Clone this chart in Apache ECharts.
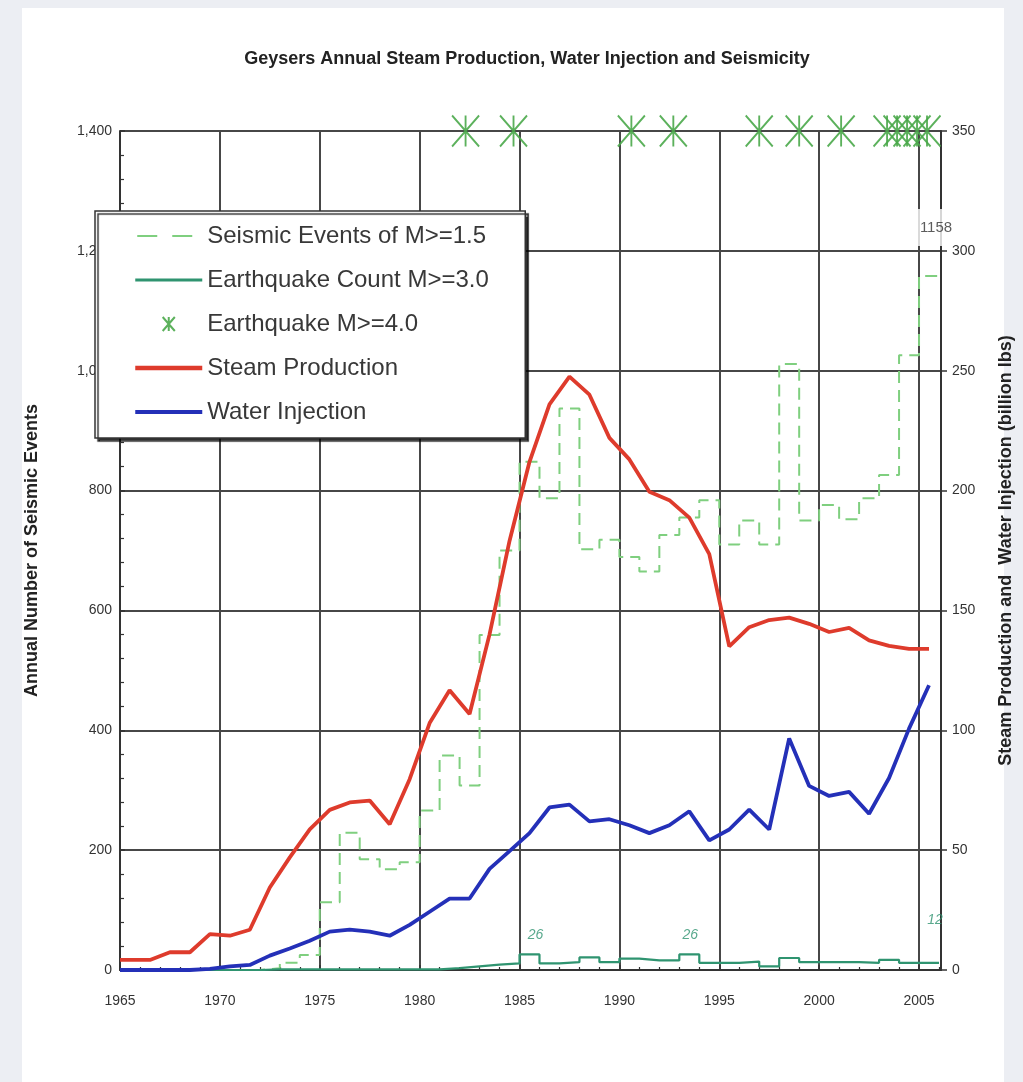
<!DOCTYPE html>
<html>
<head>
<meta charset="utf-8">
<script src="https://cdn.jsdelivr.net/npm/echarts@6/dist/echarts.min.js"></script>
<style>
  html, body { margin: 0; padding: 0; background: #eceef3; overflow: hidden; }
  #panel { position: absolute; left: 22px; top: 8px; width: 982px; height: 1074px; background: #ffffff; }
  #chart { position: absolute; left: 0; top: 0; width: 1023px; height: 1082px; }
</style>
</head>
<body>
<div id="panel"></div>
<div id="chart"></div>
<script>
// Annual values, 1965-2005
const years = [];
for (let y = 1965; y <= 2005; y++) years.push(y);

// Steam production, billion lbs (right axis)
const steamProduction = [
  4.2, 4.2, 7.4, 7.4, 15, 14.3, 16.8, 34.4, 47, 58.7,
  66.8, 69.9, 70.7, 60.8, 79.6, 103, 116.7, 106.8, 140, 179,
  212, 236, 247.5, 240, 222, 213, 199.5, 196, 188.7, 173.5,
  135, 143, 146, 147, 144.4, 141, 142.7, 137.5, 135.2, 134,
  134
];

// Water injection, billion lbs (right axis)
const waterInjection = [
  0, 0, 0, 0, 0.5, 1.5, 2.1, 6, 9, 12.2,
  16, 16.8, 16, 14.3, 18.8, 24.3, 29.8, 29.8, 42.2, 49.6,
  57.1, 67.8, 69, 62, 62.9, 60.4, 57.1, 60.4, 66.2, 54.1,
  58.6, 66.9, 58.6, 96.6, 76.8, 72.6, 74.3, 65.2, 80.1, 100.7,
  118.8
];

// Seismic events of M>=1.5 per year (left axis)
const seismicM15 = [
  0, 0, 0, 0, 0, 0, 0, 3, 12, 25,
  113, 229, 185, 168, 180, 266, 358, 308, 559, 700,
  848, 787, 937, 702, 718, 689, 665, 726, 755, 784,
  710, 750, 710, 1011, 750, 776, 752, 787, 826, 1026,
  1158
];

// Earthquake count M>=3.0 per year (left axis)
const quakeCountM30 = [
  0, 0, 0, 0, 0, 0, 0, 1, 1, 1,
  1, 1, 1, 1, 1, 1, 3, 6, 9, 11,
  26, 11, 13, 21, 13, 19, 16, 16, 26, 12,
  12, 14, 6, 20, 13, 13, 13, 12, 17, 12,
  12
];

// Dates of M>=4.0 earthquakes (decimal years)
const quakeM40Dates = [
  1982.3, 1984.7, 1990.6, 1992.7, 1997.0, 1999.0, 2001.1,
  2003.4, 2003.9, 2004.4, 2004.9, 2005.4
];

// Years whose M>=3.0 count is written on the chart
const labelledCountYears = [1985, 1993, 2005];
// Year whose M>=1.5 total is written on the chart
const labelledSeismicYears = [2005];

const FONT = "'Liberation Sans', Arial, sans-serif";
const GRID_COLOR = '#474747';
const RED = '#de3b2c';
const BLUE = '#2430b8';
const LIGHT_GREEN = '#7fcf7f';
const TEAL = '#2f9470';
const MARK_GREEN = '#4aa84a';
const TOP_VALUE = 1400;

// step series: each value holds for its whole year
function stepData(values) {
  const d = years.map((y, i) => [y, values[i]]);
  d.push([years[years.length - 1] + 1, values[values.length - 1]]);
  return d;
}
// annual totals are drawn at mid-year; the first year's value also starts at the axis
function midYearData(values) {
  const d = years.map((y, i) => [y + 0.5, values[i]]);
  d.unshift([years[0], values[0]]);
  return d;
}

const countLabelData = labelledCountYears.map(y => {
  const v = quakeCountM30[years.indexOf(y)];
  return {
    value: [y + 0.5, v],
    label: { distance: y === 2005 ? 36 : 12, offset: [y === 1993 ? 1 : 6, 0] }
  };
});
const seismicLabelData = labelledSeismicYears.map(y => ({
  value: [y + 0.5, seismicM15[years.indexOf(y)]]
}));

const asterisk = 'path://M0 0L26 30M26 0L0 30M13 0L13 30';
const hiddenSymbol = { opacity: 0 };

const chart = echarts.init(document.getElementById('chart'), null, { renderer: 'canvas' });

chart.setOption({
  backgroundColor: 'transparent',
  animation: false,
  textStyle: { fontFamily: FONT },
  title: {
    text: 'Geysers Annual Steam Production, Water Injection and Seismicity',
    left: 522,
    top: 45,
    textAlign: 'center',
    textStyle: { fontSize: 18, fontWeight: 'bold', color: '#222', fontFamily: FONT }
  },
  grid: { left: 120, right: 75, top: 131, bottom: 112, containLabel: false },
  legend: {
    orient: 'vertical',
    left: 95,
    top: 211,
    padding: [12, 33, 13, 38],
    itemWidth: 67,
    itemHeight: 14,
    itemGap: 18,
    backgroundColor: '#ffffff',
    borderColor: '#333333',
    borderWidth: 1.5,
    shadowColor: 'rgba(0,0,0,0.8)',
    shadowBlur: 1,
    shadowOffsetX: 3,
    shadowOffsetY: 3,
    z: 10,
    textStyle: { fontSize: 24, lineHeight: 26, width: 285, color: '#383838', fontFamily: FONT },
    data: [
      { name: 'Seismic Events of M>=1.5', itemStyle: hiddenSymbol,
        lineStyle: { width: 2, type: [20, 15], dashOffset: 33 } },
      { name: 'Earthquake Count M>=3.0', itemStyle: hiddenSymbol, lineStyle: { width: 3 } },
      { name: 'Earthquake M>=4.0', icon: asterisk,
        itemStyle: { color: 'transparent', borderColor: MARK_GREEN, borderWidth: 2 } },
      { name: 'Steam Production', itemStyle: hiddenSymbol, lineStyle: { width: 4.5 } },
      { name: 'Water Injection', itemStyle: hiddenSymbol, lineStyle: { width: 4 } }
    ]
  },
  xAxis: {
    type: 'value',
    min: 1965,
    max: 2006.1,
    interval: 5,
    axisLine: { show: true, lineStyle: { color: '#333', width: 2 } },
    axisTick: { show: true, inside: true, length: 5, lineStyle: { color: '#333', width: 1.5 } },
    minorTick: { show: true, splitNumber: 5, length: 3, lineStyle: { color: '#333', width: 1.2 } },
    splitLine: { show: true, lineStyle: { color: GRID_COLOR, width: 2 } },
    axisLabel: {
      color: '#333', fontSize: 14, margin: 24, showMaxLabel: false,
      formatter: v => (v % 5 === 0 ? String(v) : '')
    }
  },
  yAxis: [
    {
      type: 'value',
      min: 0,
      max: 1400,
      interval: 200,
      position: 'left',
      name: 'Annual Number of Seismic Events',
      nameLocation: 'middle',
      nameGap: 79,
      nameTextStyle: { fontSize: 18, fontWeight: 'bold', color: '#222', fontFamily: FONT },
      axisLine: { show: true, lineStyle: { color: '#333', width: 2 } },
      axisTick: { show: true, inside: true, length: 5, lineStyle: { color: '#333', width: 1.5 } },
      minorTick: { show: true, splitNumber: 5, length: 4, lineStyle: { color: '#333', width: 1.2 } },
      splitLine: { show: true, lineStyle: { color: GRID_COLOR, width: 2 } },
      axisLabel: { color: '#333', fontSize: 14, margin: 8, formatter: v => v.toLocaleString('en-US') }
    },
    {
      type: 'value',
      min: 0,
      max: 350,
      interval: 50,
      position: 'right',
      name: 'Steam Production and  Water Injection (billion lbs)',
      nameLocation: 'middle',
      nameGap: 56,
      nameRotate: 90,
      nameTextStyle: { fontSize: 18, fontWeight: 'bold', color: '#222', fontFamily: FONT },
      axisLine: { show: true, lineStyle: { color: '#333', width: 2 } },
      axisTick: { show: true, inside: false, length: 6, lineStyle: { color: '#333', width: 1.5 } },
      splitLine: { show: false },
      axisLabel: { color: '#333', fontSize: 14, margin: 11 }
    }
  ],
  series: [
    {
      name: 'Seismic Events of M>=1.5',
      type: 'line',
      step: 'end',
      yAxisIndex: 0,
      showSymbol: false,
      symbol: 'none',
      lineStyle: { color: LIGHT_GREEN, width: 2, type: [12, 7] },
      itemStyle: { color: LIGHT_GREEN },
      data: stepData(seismicM15),
      z: 2
    },
    {
      name: 'Earthquake Count M>=3.0',
      type: 'line',
      step: 'end',
      yAxisIndex: 0,
      showSymbol: false,
      symbol: 'none',
      lineStyle: { color: TEAL, width: 2.2 },
      itemStyle: { color: TEAL },
      data: stepData(quakeCountM30),
      z: 3
    },
    {
      name: 'Earthquake M>=4.0',
      type: 'scatter',
      yAxisIndex: 0,
      symbol: asterisk,
      symbolSize: [27, 31],
      clip: false,
      itemStyle: { color: 'transparent', borderColor: MARK_GREEN, borderWidth: 2, opacity: 0.9 },
      data: quakeM40Dates.map(d => [d, TOP_VALUE]),
      z: 6
    },
    {
      name: 'Steam Production',
      type: 'line',
      yAxisIndex: 1,
      showSymbol: false,
      symbol: 'none',
      lineStyle: { color: RED, width: 3.8 },
      itemStyle: { color: RED },
      data: midYearData(steamProduction),
      z: 4
    },
    {
      name: 'Water Injection',
      type: 'line',
      yAxisIndex: 1,
      showSymbol: false,
      symbol: 'none',
      lineStyle: { color: BLUE, width: 3.8 },
      itemStyle: { color: BLUE },
      data: midYearData(waterInjection),
      z: 5
    },
    {
      name: 'count labels',
      type: 'scatter',
      yAxisIndex: 0,
      symbolSize: 0,
      silent: true,
      label: {
        show: true, position: 'top', color: TEAL, fontSize: 14, fontStyle: 'italic',
        fontFamily: FONT, formatter: p => String(p.value[1])
      },
      data: countLabelData,
      z: 7
    },
    {
      name: 'seismic labels',
      type: 'scatter',
      yAxisIndex: 0,
      symbolSize: 0,
      silent: true,
      label: {
        show: true, position: 'top', distance: 30, color: '#333', fontSize: 15,
        fontFamily: FONT, backgroundColor: '#ffffff', padding: [11, 2],
        offset: [7, 0],
        formatter: p => String(p.value[1])
      },
      data: seismicLabelData,
      z: 7
    }
  ]
});
</script>
</body>
</html>
